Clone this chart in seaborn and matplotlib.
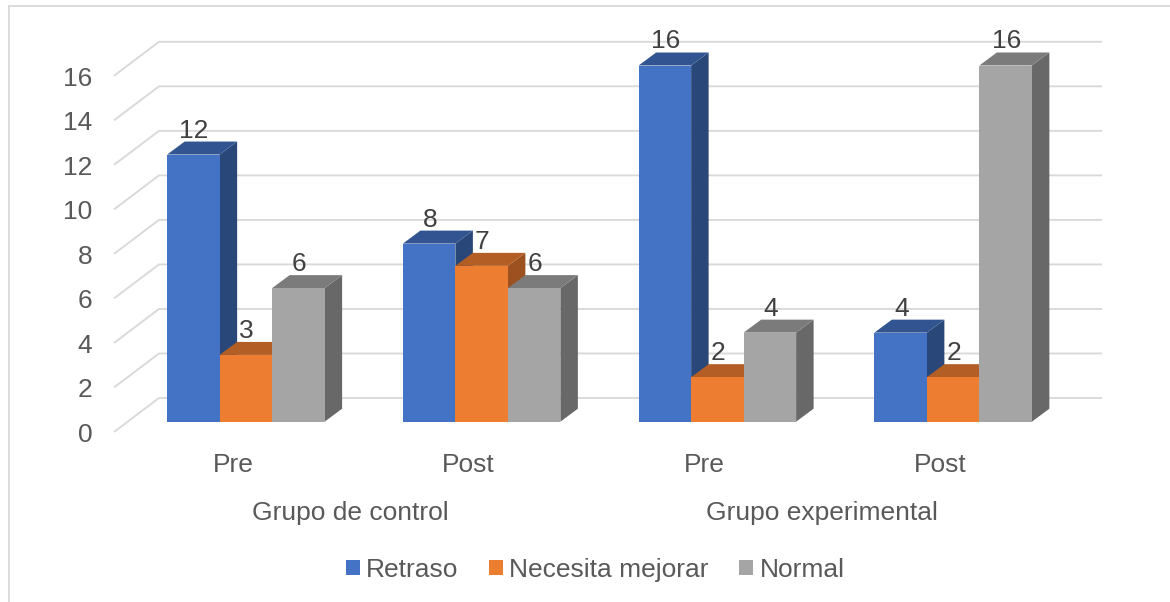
import matplotlib
matplotlib.use("Agg")
import matplotlib.pyplot as plt
import matplotlib.transforms as mtrans
from matplotlib.lines import Line2D
import pandas as pd
import seaborn as sns

groups = ["Grupo de control", "Grupo experimental"]
stages = ["Pre", "Post", "Pre", "Post"]
stage_groups = [0, 0, 1, 1]
series = ["Retraso", "Necesita mejorar", "Normal"]
retraso = [12, 8, 16, 4]
necesita = [3, 7, 2, 2]
normal = [6, 6, 4, 16]
yticks = [0, 2, 4, 6, 8, 10, 12, 14, 16]

front = ["#4472C4", "#ED7D31", "#A5A5A5"]
side = ["#294779", "#9D5120", "#686868"]
top = ["#325592", "#B35E24", "#7B7B7B"]
GRID = "#D9D9D9"
AXTXT = "#595959"
LBL = "#404040"
FS = 19

W, H = 1170, 602
sns.set_theme(style="white")
plt.rcParams["font.family"] = ["Liberation Sans", "DejaVu Sans"]

keys = [f"{g}-{i}" for i, g in enumerate(stage_groups)]
df = pd.DataFrame({
    "key": keys * 3,
    "serie": sum([[s] * 4 for s in series], []),
    "valor": retraso + necesita + normal,
})

fig = plt.figure(figsize=(W / 100, H / 100), dpi=100)
L, R, T, B = 128.0, 1071.0, 65.5, 421.7
ax = fig.add_axes([L / W, 1 - B / H, (R - L) / W, (B - T) / H])
sns.barplot(data=df, x="key", y="valor", hue="serie", order=keys, hue_order=series,
            palette=front, saturation=1, width=0.668, gap=0, ax=ax, linewidth=0)
handles, labels = ax.get_legend_handles_labels()
ax.get_legend().remove()
ax.set_xlim(-0.5, 3.5)
ax.set_ylim(0, 16)
ax.set_xlabel("")
ax.set_ylabel("")
sns.despine(ax=ax, left=True, bottom=True)
ax.patch.set_alpha(0)

# pixel-to-data helpers
ux = 4 / (R - L)
uy = 16 / (B - T)

# back wall gridlines
for v in yticks:
    ax.plot([-0.5 - 14 * ux, -0.5 + 31 * ux, 3.5 + 31 * ux],
            [v - 10.3 * uy, v + 23.7 * uy, v + 23.7 * uy],
            color=GRID, lw=1.35, clip_on=False, zorder=1, solid_capstyle="butt")

# bar depth faces
dx, dy = 17.5 * ux, 13 * uy
for s, cont in enumerate(ax.containers):
    for c, bar in enumerate(cont):
        x0, w, h = bar.get_x(), bar.get_width(), bar.get_height()
        z = 3 + c * 5 + s
        x1 = x0 + w
        ax.fill([x1, x1 + dx, x1 + dx, x1], [0, dy, h + dy, h], color=side[s], lw=0, zorder=z, clip_on=False)
        ax.fill([x0, x0 + dx, x1 + dx, x1], [h, h + dy, h + dy, h], color=top[s], lw=0, zorder=z, clip_on=False)
        bar.set_zorder(z + 0.1)
        bar.set_clip_on(False)
        ax.annotate(f"{h:g}", xy=(x0 + w / 2, h), xytext=(0.5, 24 * 0.72), textcoords="offset points",
                    ha="center", va="center", fontsize=FS, color=LBL, zorder=60, annotation_clip=False)

# axis tick labels, shifted onto the floor's front edge
ax.set_yticks(yticks)
ax.set_yticklabels([str(v) for v in yticks])
ax.tick_params(axis="y", length=0, pad=35.5 * 0.72, labelsize=FS, labelcolor=AXTXT)
shift_y = mtrans.Affine2D().translate(0, -10.5)
for t in ax.get_yticklabels():
    t.set_transform(t.get_transform() + shift_y)
ax.set_xticks(range(4))
ax.set_xticklabels(stages)
ax.tick_params(axis="x", length=0, pad=31 * 0.72, labelsize=FS, labelcolor=AXTXT)
shift_x = mtrans.Affine2D().translate(-13, 0)
for t in ax.get_xticklabels():
    t.set_transform(t.get_transform() + shift_x)

# group labels centred under their pair of categories
for i, g in enumerate(groups):
    members = [c for c, sg in enumerate(stage_groups) if sg == i]
    ax.annotate(g, xy=(sum(members) / len(members), 0), xycoords=("data", "axes fraction"),
                xytext=(-13 * 0.72, -(513 - B) * 0.72), textcoords="offset points",
                ha="center", va="center", fontsize=FS, color=AXTXT, annotation_clip=False)

fig.legend(handles, labels, loc="center", bbox_to_anchor=(595 / W, 1 - 570 / H), ncol=3, frameon=False,
           fontsize=FS, labelcolor=AXTXT, handlelength=0.53, handleheight=0.53,
           handletextpad=0.23, columnspacing=1.17, borderpad=0, borderaxespad=0)

# chart-area border
for xs, ys in [([8.5, 8.5], [H, 5.5]), ([8.5, W], [5.5, 5.5])]:
    fig.add_artist(Line2D([x / W for x in xs], [1 - y / H for y in ys], color=GRID, lw=1.35))

fig.savefig("out.png", dpi=100, facecolor="white")
